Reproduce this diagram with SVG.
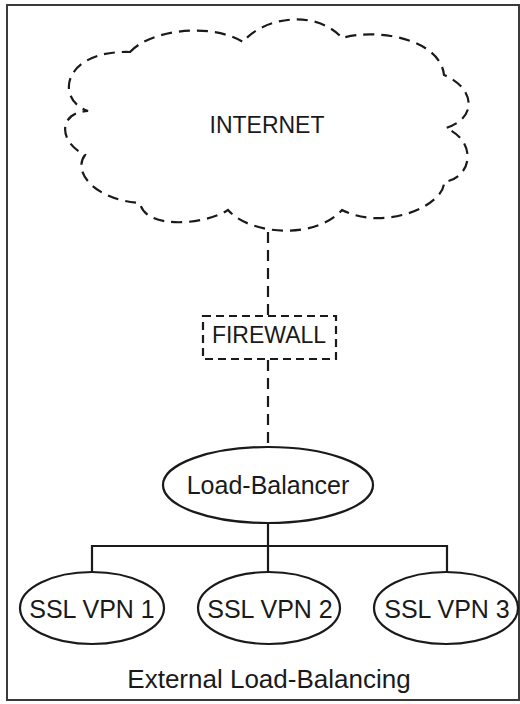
<svg xmlns="http://www.w3.org/2000/svg" width="520" height="704" viewBox="0 0 520 704">
  <style>
    .ink { fill: none; stroke: #1a1a1a; stroke-width: 2.2; }
    .dash { stroke-dasharray: 11 7; }
    .dash-box { stroke-dasharray: 8 5; }
    .node { fill: #ffffff; stroke: #1a1a1a; stroke-width: 2.2; }
    .label { font-family: "Liberation Sans", Arial, sans-serif; fill: #1a1a1a; text-anchor: middle; }
  </style>

  <rect x="0" y="0" width="520" height="704" fill="#ffffff"/>

  <!-- outer frame -->
  <rect x="7" y="5" width="512" height="695" fill="none" stroke="#3a3a3a" stroke-width="2"/>

  <!-- connectors -->
  <g id="connectors" class="ink">
    <line class="dash" x1="268" y1="232" x2="268" y2="316"/>
    <line class="dash" x1="268" y1="360" x2="268" y2="447"/>
    <line x1="268" y1="523" x2="268" y2="572"/>
    <polyline points="92,572 92,546 447,546 447,572"/>
  </g>

  <!-- cloud -->
  <g id="internet">
    <path class="ink dash" d="M130,52
      C150,30 210,22 243,42
      C262,18 315,8 342,38
      C375,28 440,38 444,75
      C475,88 478,118 446,128
      C478,142 472,178 444,182
      C445,205 385,232 342,210
      C315,240 250,235 228,210
      C205,225 145,230 140,203
      C95,200 72,172 85,155
      C58,142 58,112 88,111
      C55,100 62,50 130,52 Z"/>
    <text class="label" x="267" y="133" font-size="23">INTERNET</text>
  </g>

  <g id="firewall">
    <rect class="ink dash-box" x="203" y="316" width="133" height="43"/>
    <text class="label" x="269" y="343" font-size="23">FIREWALL</text>
  </g>

  <g id="load-balancer">
    <ellipse class="node" cx="268" cy="485" rx="105" ry="38"/>
    <text class="label" x="268" y="494" font-size="25">Load-Balancer</text>
  </g>

  <g id="ssl-vpn-1">
    <ellipse class="node" cx="92" cy="608" rx="72" ry="36"/>
    <text class="label" x="92" y="618" font-size="25">SSL VPN 1</text>
  </g>

  <g id="ssl-vpn-2">
    <ellipse class="node" cx="269" cy="608" rx="71" ry="36"/>
    <text class="label" x="270" y="618" font-size="25">SSL VPN 2</text>
  </g>

  <g id="ssl-vpn-3">
    <ellipse class="node" cx="446" cy="608" rx="72" ry="36"/>
    <text class="label" x="447" y="618" font-size="25">SSL VPN 3</text>
  </g>

  <text id="caption" class="label" x="269" y="688" font-size="26">External Load-Balancing</text>
</svg>
